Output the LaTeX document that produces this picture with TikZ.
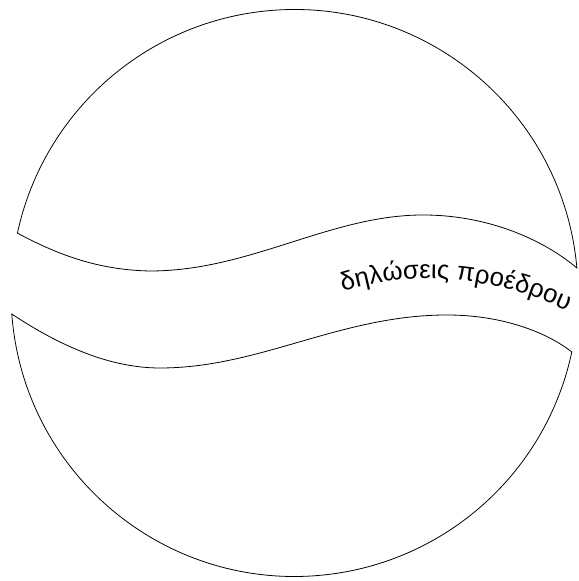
\documentclass[tikz,border=0pt]{standalone}
\usepackage{fontspec}
\usetikzlibrary{calc, decorations.text}
\newfontfamily\bandfamily{Liberation Sans}
\newcommand{\bandfont}{\bandfamily\fontsize{14.7}{17}\selectfont}

\begin{document}
\begin{tikzpicture}[
        x=0.02cm, y=0.02cm,
        outline/.style={
            draw=black,
            line width=0.45pt,
            line join=miter
        },
        bandtext/.style={
            decorate,
            decoration={
                text along path,
                text align=center,
                text={|\bandfont|δηλώσεις προέδρου}
            }
        }
    ]
        \useasboundingbox (0,0) rectangle (578,581);
        \coordinate (centre) at (294.5,288);

        % upper cap: arc over the top, wave back
        \coordinate (upR) at ($(centre)+(5.06:283.5)$);
        \coordinate (upL) at ($(centre)+(167.8:283.5)$);
        \draw[outline] (upR) arc[start angle=5.06, end angle=167.8, radius=283.5]
            .. controls (60,325) and (100,311) .. (150,310)
            .. controls (250,310) and (330,366) .. (423,366)
            .. controls (490,366) and (545,340) .. (upR) -- cycle;

        % lower cap: arc under the bottom, wave back
        \coordinate (loL) at ($(centre)+(184.25:283.5)$);
        \coordinate (loR) at ($(centre)+(348:283.5)$);
        \draw[outline] (loL) arc[start angle=184.25, end angle=348, radius=283.5]
            .. controls (545,250) and (500,266) .. (447,266)
            .. controls (340,266) and (260,213) .. (160,213)
            .. controls (110,213) and (60,235) .. (loL) -- cycle;

        % label in the band
        \coordinate (txtL) at (338,288);
        \coordinate (txtR) at (572,268);
        \path[bandtext] (txtL) .. controls (395,308) and (480,312) .. (txtR);
    \end{tikzpicture}
\end{document}
